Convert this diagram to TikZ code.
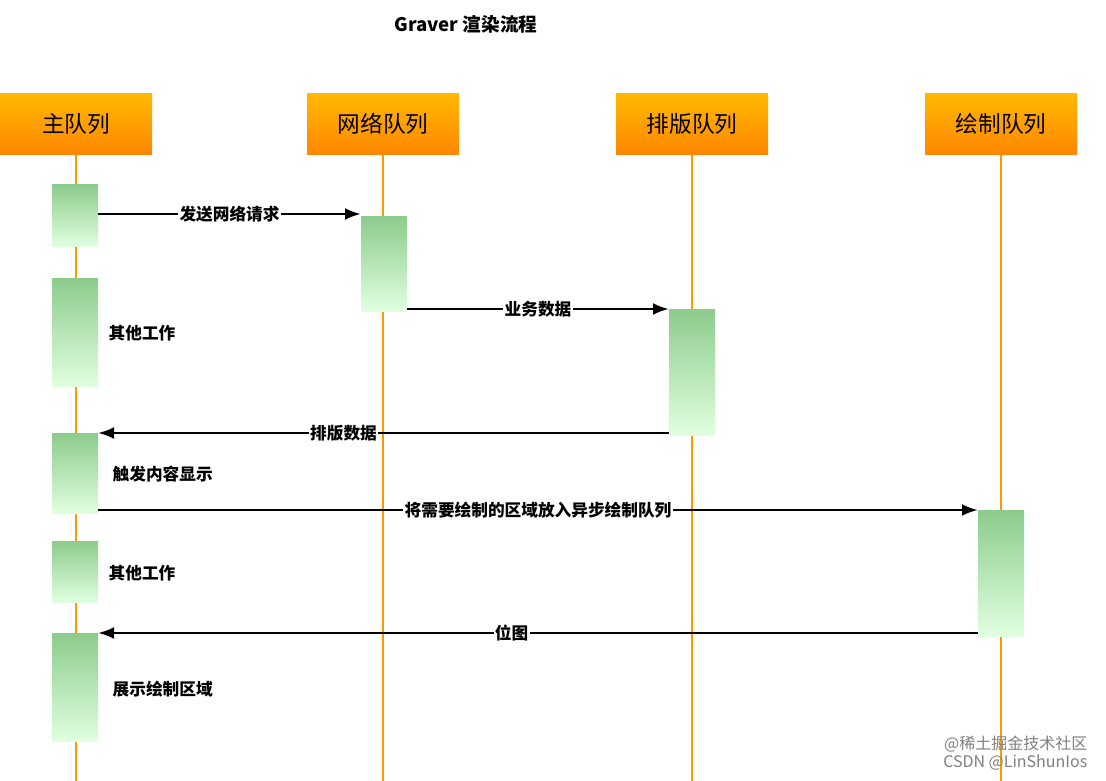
\documentclass[tikz,border=0pt]{standalone}
\usepackage{fontspec}
\setmainfont{Noto Sans CJK SC}
\usetikzlibrary{arrows.meta}
\begin{document}
\begin{tikzpicture}[x=0.75pt,y=-0.75pt,
  hdr/.style={rectangle,minimum width=114pt,minimum height=46pt,top color=orange!55!yellow,bottom color=orange!95!yellow,font=\fontsize{17}{17}\selectfont},
  life/.style={draw=orange!80!yellow,line width=1.5pt},
  act/.style={top color=green!55!black!45!white,bottom color=green!12!white},
  msg/.style={draw=black,line width=2pt,-{Latex[length=12pt,width=9pt]}},
  lbl/.style={fill=white,inner sep=1pt,font=\bfseries\fontsize{12.5}{12.5}\selectfont},
  side/.style={anchor=west,font=\bfseries\fontsize{12.5}{12.5}\selectfont}]
\useasboundingbox (0,0) rectangle (1106,781);
\node[font=\bfseries\fontsize{14}{14}\selectfont] (title) at (466,24) {Graver 渲染流程};
\foreach \n/\x/\t in {h1/76/主队列,h2/383/网络队列,h3/692/排版队列,h4/1001/绘制队列}{
  \node[hdr] (\n) at (\x,124) {\t};
  \coordinate (\n e) at (\x,781);
  \draw[life] (\n) -- (\n e);
}
\foreach \n/\x/\a/\b in {m1/75/185/246,m2/75/278/386,m3/75/433/513,m4/75/541/602,m5/75/633/741,n1/384/216/311,l1/692/309/435,d1/1001/510/636}{
  \fill[act] (\x-23,\a) rectangle (\x+23,\b);
  \coordinate (\n) at (\x,\a);
}
\coordinate (a1s) at (98,214); \coordinate (a1e) at (361,214);
\coordinate (a2s) at (407,309); \coordinate (a2e) at (669,309);
\coordinate (a3s) at (669,433); \coordinate (a3e) at (98,433);
\coordinate (a4s) at (98,510); \coordinate (a4e) at (978,510);
\coordinate (a5s) at (978,633); \coordinate (a5e) at (98,633);
\draw[msg] (a1s) -- node[lbl,pos=0.5] (t1) {发送网络请求} (a1e);
\draw[msg] (a2s) -- node[lbl,pos=0.5] (t2) {业务数据} (a2e);
\draw[msg] (a3s) -- node[lbl,pos=0.57] (t3) {排版数据} (a3e);
\draw[msg] (a4s) -- node[lbl,pos=0.5] (t4) {将需要绘制的区域放入异步绘制队列} (a4e);
\draw[msg] (a5s) -- node[lbl,pos=0.53] (t5) {位图} (a5e);
\node[side] (s1) at (104,333) {其他工作};
\node[side] (s2) at (108,474) {触发内容显示};
\node[side] (s3) at (104,573) {其他工作};
\node[side] (s4) at (108,689) {展示绘制区域};
\node[anchor=east,text=gray,font=\fontsize{12}{13}\selectfont,align=right] (wm) at (1092,753) {@稀土掘金技术社区\\CSDN @LinShunIos};
\end{tikzpicture}
\end{document}
